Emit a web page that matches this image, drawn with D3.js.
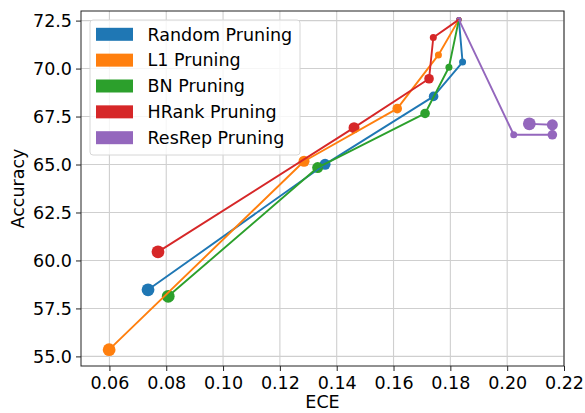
<!DOCTYPE html>
<html>
<head>
<meta charset="utf-8">
<script src="https://cdn.jsdelivr.net/npm/d3@7"></script>
<style>
  html, body { margin: 0; padding: 0; background: #fff; }
  svg { display: block; font-family: "DejaVu Sans", sans-serif; }
</style>
</head>
<body>
<svg id="chart" width="585" height="413"></svg>
<script>
// Accuracy vs. calibration error (ECE) for each pruning method
const seriesNames = ["Random Pruning", "L1 Pruning", "BN Pruning", "HRank Pruning", "ResRep Pruning"];
const seriesColors = ["#1f77b4", "#ff7f0e", "#2ca02c", "#d62728", "#9467bd"];

const randomECE = [0.0736, 0.1359, 0.1741, 0.1843, 0.1830];
const randomAcc = [58.47, 65.01, 68.55, 70.34, 72.55];

const l1ECE = [0.0599, 0.1285, 0.1613, 0.1758, 0.1830];
const l1Acc = [55.35, 65.17, 67.91, 70.71, 72.55];

const bnECE = [0.0807, 0.1333, 0.1711, 0.1795, 0.1830];
const bnAcc = [58.13, 64.84, 67.66, 70.07, 72.55];

const hrankECE = [0.0771, 0.1461, 0.1725, 0.1740, 0.1830];
const hrankAcc = [60.45, 66.92, 69.47, 71.62, 72.55];

const resrepECE = [0.2078, 0.2159, 0.2159, 0.2023, 0.1830];
const resrepAcc = [67.12, 67.07, 66.55, 66.55, 72.55];

// marker radius per step (larger = stronger pruning)
const markerRadius = [6.4, 5.5, 4.8, 3.5, 2.6];

const xTicks = [0.06, 0.08, 0.10, 0.12, 0.14, 0.16, 0.18, 0.20, 0.22];
const yTicks = [55.0, 57.5, 60.0, 62.5, 65.0, 67.5, 70.0, 72.5];

const series = [
  { ece: randomECE, acc: randomAcc },
  { ece: l1ECE, acc: l1Acc },
  { ece: bnECE, acc: bnAcc },
  { ece: hrankECE, acc: hrankAcc },
  { ece: resrepECE, acc: resrepAcc }
].map((s, i) => ({
  name: seriesNames[i],
  color: seriesColors[i],
  points: s.ece.map((e, j) => ({ x: e, y: s.acc[j], r: markerRadius[j] }))
}));

const svg = d3.select("#chart");
const margin = { left: 81, right: 21, top: 11, bottom: 47 };
const W = 585, H = 413;
const plotW = W - margin.left - margin.right;
const plotH = H - margin.top - margin.bottom;

const x = d3.scaleLinear().domain([0.05, 0.22]).range([margin.left, margin.left + plotW]);
const y = d3.scaleLinear().domain([54.5, 73.0]).range([margin.top + plotH, margin.top]);

const fontSize = 17.5;

// grid
const grid = svg.append("g");
grid.selectAll("line.gx").data(xTicks).join("line")
  .attr("x1", d => x(d)).attr("x2", d => x(d))
  .attr("y1", margin.top).attr("y2", margin.top + plotH)
  .attr("stroke", "#cfcfcf").attr("stroke-width", 1.1);
grid.selectAll("line.gy").data(yTicks).join("line")
  .attr("y1", d => y(d)).attr("y2", d => y(d))
  .attr("x1", margin.left).attr("x2", margin.left + plotW)
  .attr("stroke", "#cfcfcf").attr("stroke-width", 1.1);

// markers under lines
const marks = svg.append("g");
series.forEach(s => {
  marks.selectAll(null).data(s.points).join("circle")
    .attr("cx", d => x(d.x)).attr("cy", d => y(d.y)).attr("r", d => d.r)
    .attr("fill", s.color);
});

const line = d3.line().x(d => x(d.x)).y(d => y(d.y));
const lines = svg.append("g");
series.forEach(s => {
  lines.append("path").datum(s.points)
    .attr("d", line)
    .attr("fill", "none")
    .attr("stroke", s.color)
    .attr("stroke-width", 1.9)
    .attr("stroke-linejoin", "round");
});

// axes
const xAxis = d3.axisBottom(x).tickValues(xTicks).tickFormat(d3.format(".2f")).tickSize(5).tickPadding(6);
const yAxis = d3.axisLeft(y).tickValues(yTicks).tickFormat(d3.format(".1f")).tickSize(5).tickPadding(4);

const gx = svg.append("g").attr("transform", `translate(0,${margin.top + plotH})`).call(xAxis);
const gy = svg.append("g").attr("transform", `translate(${margin.left},0)`).call(yAxis);
[gx, gy].forEach(g => {
  g.select(".domain").remove();
  g.selectAll(".tick line").attr("stroke", "#222").attr("stroke-width", 1);
  g.selectAll(".tick text").attr("fill", "#000")
    .style("font-size", fontSize + "px").style("font-family", "DejaVu Sans");
});

// frame
svg.append("rect")
  .attr("x", margin.left).attr("y", margin.top)
  .attr("width", plotW).attr("height", plotH)
  .attr("fill", "none").attr("stroke", "#222").attr("stroke-width", 1);

// axis titles
svg.append("text")
  .attr("x", margin.left + plotW / 2).attr("y", 408)
  .attr("text-anchor", "middle")
  .style("font-size", fontSize + "px")
  .text("ECE");
svg.append("text")
  .attr("transform", `translate(24,${margin.top + plotH / 2}) rotate(-90)`)
  .attr("text-anchor", "middle")
  .style("font-size", fontSize + "px")
  .text("Accuracy");

// legend
const lg = svg.append("g").attr("transform", "translate(90,20)");
lg.append("rect")
  .attr("width", 210).attr("height", 135).attr("rx", 3)
  .attr("fill", "#fff").attr("fill-opacity", 0.8)
  .attr("stroke", "#d6d6d6").attr("stroke-width", 1);
series.forEach((s, i) => {
  const row = lg.append("g").attr("transform", `translate(0,${14.3 + i * 25.85})`);
  row.append("rect").attr("x", 6).attr("y", -6.5).attr("width", 37).attr("height", 13).attr("fill", s.color);
  row.append("text").attr("x", 57.5).attr("y", 6.3)
    .style("font-size", fontSize + "px")
    .text(s.name);
});
</script>
</body>
</html>
